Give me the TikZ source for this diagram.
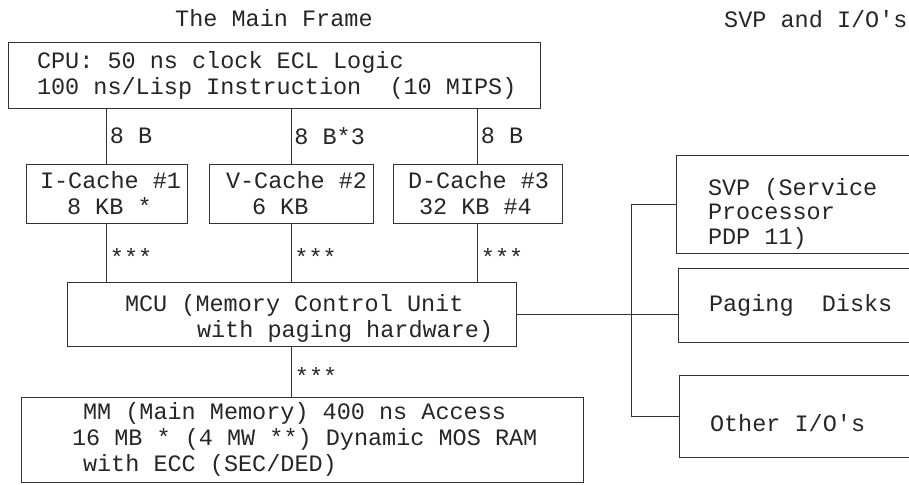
\documentclass[tikz,border=0pt]{standalone}
\usepackage{fontspec}
\setmonofont{Liberation Mono}
\usetikzlibrary{positioning}

\begin{document}
\begin{tikzpicture}[x=1pt,y=-1pt,
  every node/.style={font=\ttfamily\fontsize{23.5}{26}\selectfont,text=black!85},
  ln/.style={draw=black!80,line width=0.8pt},
  box/.style={ln,rectangle,align=flush left,inner xsep=4pt,inner ysep=0pt},
  lab/.style={inner sep=3pt},
  stars/.style={lab,right,yshift=-4pt}]
\useasboundingbox (0,0) rectangle (909,484);
\clip (0,0) rectangle (909,484);
% headings
\node[lab,anchor=base west] (mainhd) at (172,27) {The Main Frame};
\node[lab,anchor=base west] (iohd) at (721,28) {SVP and I/O's};
% the main frame
\node[box,text width=524pt,minimum height=66pt] (cpu) at (274,75)
  {\hspace*{25pt}CPU: 50 ns clock ECL Logic\\
   \hspace*{25pt}100 ns/Lisp Instruction~~(10 MIPS)};
\node[box,text width=153pt,minimum height=59pt] (icache) at (106.5,193.5)
  {\hspace*{10pt}I-Cache \#1\\\hspace*{37pt}8 KB *};
\node[box,text width=156pt,minimum height=59pt] (vcache) at (291,193.5)
  {\hspace*{13pt}V-Cache \#2\\\hspace*{39pt}6 KB};
\node[box,text width=161pt,minimum height=59pt] (dcache) at (477.5,193.5)
  {\hspace*{11pt}D-Cache \#3\\\hspace*{22pt}32 KB \#4};
\node[box,text width=441pt,minimum height=64pt] (mcu) at (291.5,314)
  {\rule{0pt}{25pt}\hspace*{54pt}MCU (Memory Control Unit\\
   \hspace*{126pt}with paging hardware)};
\node[box,text width=554pt,minimum height=85pt] (mm) at (302,439.5)
  {\hspace*{58pt}MM (Main Memory) 400 ns Access\\
   \hspace*{47pt}16 MB * (4 MW **) Dynamic MOS RAM\\
   \hspace*{58pt}with ECC (SEC/DED)};
% SVP and I/O's
\node[box,text width=246pt,minimum height=98pt] (svp) at (803,204)
  {\rule{0pt}{36pt}\hspace*{28pt}SVP (Service\\[-1.5pt]\hspace*{28pt}Processor\\[-1.5pt]\hspace*{28pt}PDP 11)};
\node[box,text width=244pt,minimum height=74pt] (paging) at (804,305)
  {\hspace*{27pt}Paging~~Disks};
\node[box,text width=243pt,minimum height=82pt] (other) at (804.5,416)
  {\rule{0pt}{32pt}\hspace*{27pt}Other I/O's};
\coordinate (bus) at (631,300);
% buses
\draw[ln] (icache.north |- cpu.south) -- node[lab,right] {8 B} (icache.north);
\draw[ln] (vcache.north |- cpu.south) -- node[lab,right] {8 B*3} (vcache.north);
\draw[ln] (dcache.north |- cpu.south) -- node[lab,right] {8 B} (dcache.north);
\draw[ln] (icache.south) -- node[stars] {***} (icache.south |- mcu.north);
\draw[ln] (vcache.south) -- node[stars] {***} (vcache.south |- mcu.north);
\draw[ln] (dcache.south) -- node[stars] {***} (dcache.south |- mcu.north);
\draw[ln] (mcu.south) -- node[stars] {***} (mcu.south |- mm.north);
\draw[ln] (mcu.east) -- (mcu.east -| paging.west);
\draw[ln] (svp.west) -- (svp.west -| bus) -- (other.west -| bus) -- (other.west);
\end{tikzpicture}
\end{document}
